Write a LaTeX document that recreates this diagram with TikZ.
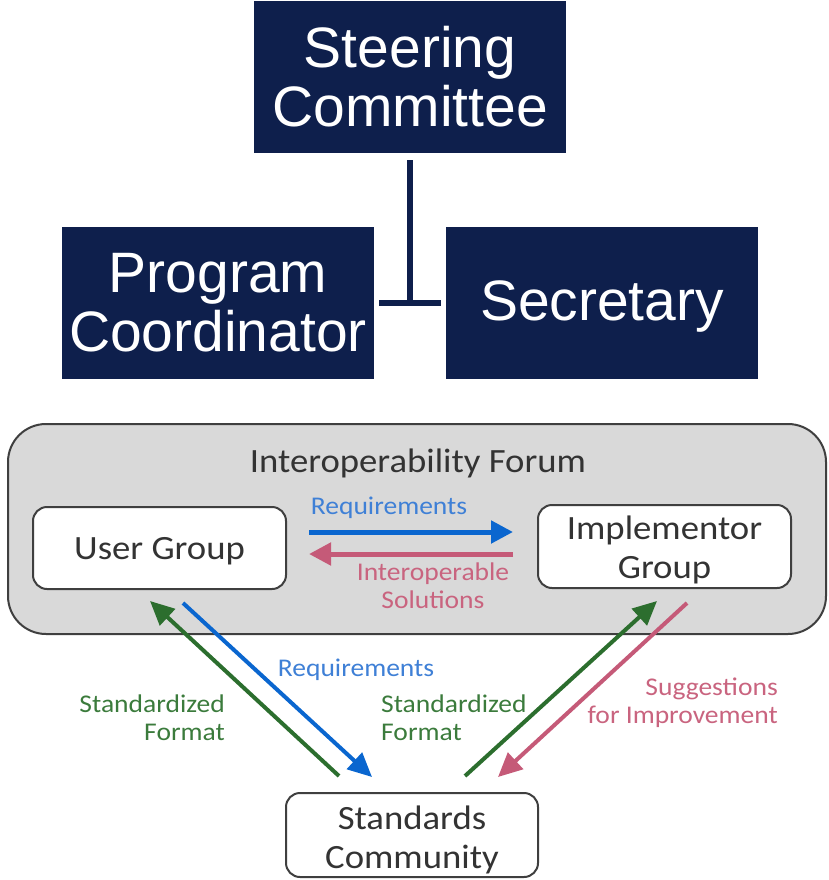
\documentclass[tikz,border=0pt]{standalone}
\usepackage{fontspec}
\setmainfont{Carlito}
\newfontfamily\arialf{Liberation Sans}
\newfontfamily\calib[FakeStretch=1.08]{Carlito}
\usetikzlibrary{arrows.meta}
\definecolor{navy}{HTML}{0E1F4C}
\definecolor{forumgray}{HTML}{D9D9D9}
\definecolor{edgegray}{HTML}{3F3F3F}
\definecolor{txtgray}{HTML}{333333}
\definecolor{reqblue}{HTML}{0A66CF}
\definecolor{reqbluet}{HTML}{3F80D6}
\definecolor{solpink}{HTML}{C55A78}
\definecolor{solpinkt}{HTML}{C9647F}
\definecolor{stdgreen}{HTML}{2C6E2E}
\definecolor{stdgreent}{HTML}{3B7B3C}
\tikzset{
  navybox/.style={fill=navy, text=white, minimum width=312pt, minimum height=152pt,
    inner sep=0pt, align=center, font=\arialf\fontsize{57}{59}\selectfont},
  navytext/.style={text=white, inner sep=0pt, align=center, font=\arialf\fontsize{57}{59}\selectfont},
  groupbox/.style={draw=edgegray, line width=2pt, fill=white, rounded corners=14pt,
    inner sep=0pt},
  grouptext/.style={inner sep=0pt, align=center, text=txtgray, font=\calib\fontsize{34}{39}\selectfont},
  lbl/.style={inner sep=0pt, font=\calib\fontsize{25.5}{28}\selectfont},
  bigarrow/.style={line width=5pt, -{Triangle[length=22pt,width=22pt]}},
  diagarrow/.style={line width=4pt, -{Triangle[length=24pt,width=22pt]}},
  tline/.style={draw=navy, line width=6pt}
}
\begin{document}
\begin{tikzpicture}[x=1pt,y=-1pt]
\useasboundingbox (0,0) rectangle (828,880);

% top organisation
\node[navybox] (sc) at (410,77) {Steering\\Committee};
\node[navybox] (pc) at (218,303) {Program\\Coordinator};
\node[navybox] (sec) at (602,303) {};
\node[navytext] (sect) at (602,307) {Secretary};
\coordinate (ttop) at (410,160);
\coordinate (tmid) at (410,303);
\coordinate (tl) at (379,303);
\coordinate (tr) at (441,303);
\draw[tline] (ttop) -- (tmid);
\draw[tline] (tl) -- (tr);

% forum
\draw[draw=edgegray, line width=2pt, fill=forumgray, rounded corners=38pt] (8,424) rectangle (826,634);
\node[grouptext] (ftitle) at (418,463) {Interoperability Forum};

\node[groupbox, minimum width=253pt, minimum height=82pt] (ug) at (159.5,548) {};
\node[grouptext] (ugt) at (159.5,551) {User Group};
\node[groupbox, minimum width=253pt, minimum height=83pt] (ig) at (664.5,546.5) {};
\node[grouptext] (igt) at (664.5,549.5) {Implementor\\Group};
\node[groupbox, minimum width=252pt, minimum height=84pt] (scm) at (412,835) {};
\node[grouptext] (scmt) at (412,839.5) {Standards\\Community};

% horizontal arrows
\coordinate (rq1) at (309,532);
\coordinate (rq2) at (513,532);
\coordinate (so1) at (513,554);
\coordinate (so2) at (309,554);
\draw[bigarrow, reqblue] (rq1) -- (rq2);
\draw[bigarrow, solpink] (so1) -- (so2);
\node[lbl, text=reqbluet] (rql) at (389,507.5) {Requirements};
\node[lbl, text=solpinkt, align=center] (sol) at (433,586) {Interoperable\\Solutions};

% diagonal arrows
\coordinate (g1s) at (339,776);
\coordinate (g1e) at (150,601);
\coordinate (b1s) at (183,603);
\coordinate (b1e) at (372,777);
\coordinate (g2s) at (465,776);
\coordinate (g2e) at (657,601);
\coordinate (p2s) at (687,603);
\coordinate (p2e) at (498,777);
\draw[diagarrow, stdgreen] (g1s) -- (g1e);
\draw[diagarrow, reqblue] (b1s) -- (b1e);
\draw[diagarrow, stdgreen] (g2s) -- (g2e);
\draw[diagarrow, solpink] (p2s) -- (p2e);

\node[lbl, text=reqbluet] (rq2l) at (356,669.5) {Requirements};
\node[lbl, text=stdgreent, align=right, anchor=east] (sf1) at (225,718) {Standardized\\Format};
\node[lbl, text=stdgreent, align=left, anchor=west] (sf2) at (381,718) {Standardized\\Format};
\node[lbl, text=solpinkt, align=right, anchor=east] (sug) at (778,703) {Suggestions\\for Improvement};
\end{tikzpicture}
\end{document}
